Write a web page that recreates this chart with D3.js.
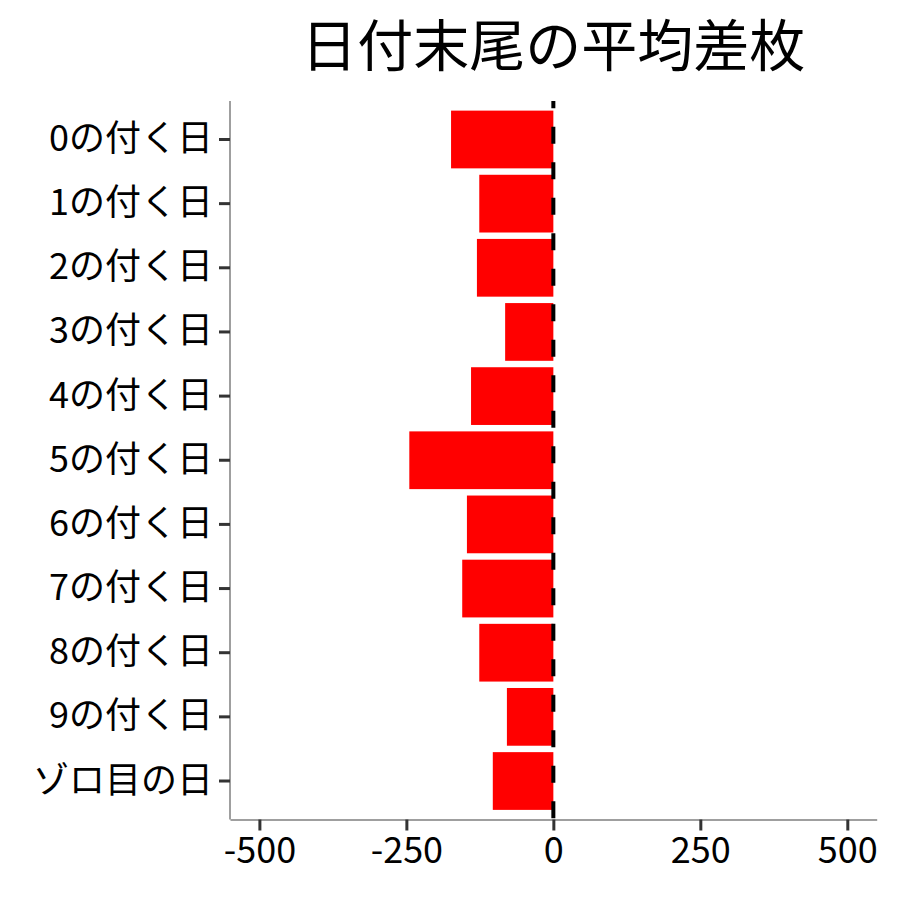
<!DOCTYPE html>
<html>
<head>
<meta charset="utf-8">
<script src="https://cdn.jsdelivr.net/npm/d3@7"></script>
<style>
  body { margin: 0; background: #fff; }
  text { font-family: "Noto Sans CJK JP", "Noto Sans", sans-serif; }
</style>
</head>
<body>
<script>
// categories (top to bottom) and average difference values
var categories = ["0の付く日", "1の付く日", "2の付く日", "3の付く日", "4の付く日",
    "5の付く日", "6の付く日", "7の付く日", "8の付く日", "9の付く日", "ゾロ目の日"];
var avgDiff = [-174, -126, -130, -82, -140, -245, -147, -155, -126, -79, -103];
var xTicks = [-500, -250, 0, 250, 500];
var titleText = "日付末尾の平均差枚";

var data = categories.map(function(c, i) { return { name: c, value: avgDiff[i] }; });

var W = 900, H = 900;
var panel = { left: 230, right: 876.7, top: 101, bottom: 819.5 };

var svg = d3.select("body")
    .append("svg")
    .attr("width", W)
    .attr("height", H);

// scales
var x = d3.scaleLinear()
    .domain([-550, 550])
    .range([panel.left, panel.right]);

var y = d3.scaleBand()
    .domain(categories)
    .range([panel.top, panel.bottom])
    .paddingInner(0.1)
    .paddingOuter(0.15);

// bars
svg.selectAll(".bar")
    .data(data)
    .enter()
    .append("rect")
    .attr("class", "bar")
    .attr("x", function(d) { return x(Math.min(0, d.value)); })
    .attr("width", function(d) { return Math.abs(x(d.value) - x(0)); })
    .attr("y", function(d) { return y(d.name); })
    .attr("height", y.bandwidth())
    .attr("fill", "#ff0000");

// dashed reference line at 0
svg.append("line")
    .attr("x1", x(0))
    .attr("x2", x(0))
    .attr("y1", panel.top)
    .attr("y2", panel.bottom)
    .attr("stroke", "#000")
    .attr("stroke-width", 4)
    .attr("stroke-dasharray", "17 18.5")
    .attr("stroke-dashoffset", 9.8);

// x axis
var xAxis = svg.append("g")
    .attr("transform", "translate(0," + panel.bottom + ")")
    .call(d3.axisBottom(x).tickValues(xTicks).tickSize(11).tickSizeOuter(0).tickPadding(7)
        .tickFormat(function(d) { return d; }));
xAxis.select(".domain").attr("stroke", "#7f7f7f").attr("stroke-width", 1.5);
xAxis.selectAll(".tick line").attr("stroke", "#333").attr("stroke-width", 3);
xAxis.selectAll("text")
    .attr("fill", "#000")
    .style("font-size", "36px");

// y axis
var yAxis = svg.append("g")
    .attr("transform", "translate(" + panel.left + ",0)")
    .call(d3.axisLeft(y).tickSize(11).tickSizeOuter(0).tickPadding(6));
yAxis.select(".domain").attr("stroke", "#7f7f7f").attr("stroke-width", 1.5)
    .attr("d", "M0," + panel.top + "V" + panel.bottom);
yAxis.selectAll(".tick line").attr("stroke", "#333").attr("stroke-width", 3);
yAxis.selectAll("text")
    .attr("fill", "#000")
    .style("font-size", "36px");

// title
svg.append("text")
    .attr("x", (panel.left + panel.right) / 2)
    .attr("y", 66)
    .attr("text-anchor", "middle")
    .style("font-size", "56px")
    .attr("fill", "#000")
    .text(titleText);
</script>
</body>
</html>
